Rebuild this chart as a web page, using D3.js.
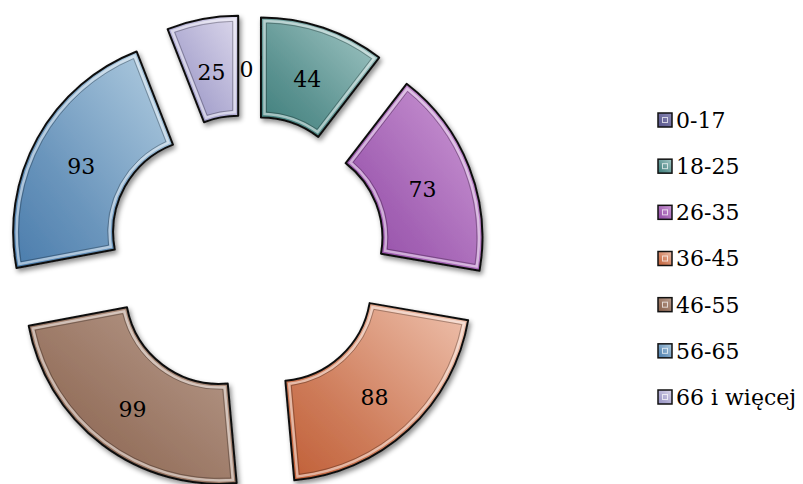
<!DOCTYPE html>
<html>
<head>
<meta charset="utf-8">
<script src="https://cdn.jsdelivr.net/npm/d3@7"></script>
<style>
  body { margin: 0; background: #fff; }
  text { font-family: "DejaVu Serif", serif; }
</style>
</head>
<body>
<svg id="chart" width="803" height="484"></svg>
<script>
// age groups and counts
var categories = ["0-17", "18-25", "26-35", "36-45", "46-55", "56-65", "66 i więcej"];
var values = [0, 44, 73, 88, 99, 93, 25];
var darkColors = ["#56548a", "#3c7c79", "#9048a4", "#c05e36", "#87604c", "#4a7cac", "#9490c2"];
var lightColors = ["#8e8cb8", "#a6cac8", "#cf9dd8", "#efc2ae", "#bca090", "#b4cfe2", "#dcd8ec"];

var width = 803, height = 484,
    cx = 246.5, cy = 254,
    outerR = 194, innerR = 94,
    explode = 45;

var svg = d3.select("#chart");
var defs = svg.append("defs");

categories.forEach(function(c, i) {
  var g = defs.append("linearGradient")
      .attr("id", "grad" + i)
      .attr("x1", 0).attr("y1", 1).attr("x2", 1).attr("y2", 0);
  g.append("stop").attr("offset", "0%").attr("stop-color", darkColors[i]);
  g.append("stop").attr("offset", "35%").attr("stop-color", d3.interpolateRgb(darkColors[i], lightColors[i])(0.3));
  g.append("stop").attr("offset", "100%").attr("stop-color", lightColors[i]);
});

var shadow = defs.append("filter").attr("id", "shadow")
    .attr("x", "-20%").attr("y", "-20%").attr("width", "140%").attr("height", "140%");
shadow.append("feDropShadow")
    .attr("dx", 2).attr("dy", 3).attr("stdDeviation", 2.5)
    .attr("flood-color", "#000").attr("flood-opacity", 0.45);

var pie = d3.pie().sort(null).value(function(d) { return d; });
var arcs = pie(values);

var arc = d3.arc().innerRadius(innerR).outerRadius(outerR);
var inset1 = d3.arc().innerRadius(innerR + 3.5).outerRadius(outerR - 3.5)
    .padRadius(outerR).padAngle(7 / outerR);
var inset2 = d3.arc().innerRadius(innerR + 5.5).outerRadius(outerR - 5.5)
    .padRadius(outerR).padAngle(11 / outerR);

function offset(d) {
  var a = (d.startAngle + d.endAngle) / 2;
  return [cx + explode * Math.sin(a), cy - explode * Math.cos(a)];
}

var seg = svg.append("g").selectAll("g")
  .data(arcs)
  .join("g")
    .attr("transform", function(d) { var o = offset(d); return "translate(" + o[0] + "," + o[1] + ")"; });

var drawn = seg.filter(function(d) { return d.value > 0; });

drawn.append("path")
    .attr("d", arc)
    .attr("fill", function(d) { return "url(#grad" + d.index + ")"; })
    .attr("stroke", "#111")
    .attr("stroke-width", 2)
    .attr("stroke-linejoin", "round")
    .attr("filter", "url(#shadow)");

drawn.append("path")
    .attr("d", inset1)
    .attr("fill", "none")
    .attr("stroke", "rgba(255,255,255,0.5)")
    .attr("stroke-width", 2.5);

drawn.append("path")
    .attr("d", inset2)
    .attr("fill", "none")
    .attr("stroke", "rgba(0,0,0,0.35)")
    .attr("stroke-width", 0.8);

seg.append("text")
    .attr("transform", function(d) { return "translate(" + arc.centroid(d) + ")"; })
    .attr("text-anchor", "middle")
    .attr("dy", 12)
    .attr("font-size", 22)
    .attr("fill", "#000")
    .text(function(d) { return d.value; });

// legend
var legendY = d3.scalePoint().domain(categories).range([120, 397]);

var legend = svg.append("g").selectAll("g")
  .data(categories)
  .join("g")
    .attr("transform", function(d) { return "translate(658," + legendY(d) + ")"; });

legend.append("rect")
    .attr("x", 0).attr("y", -7).attr("width", 14).attr("height", 14)
    .attr("fill", function(d, i) { return "url(#grad" + i + ")"; })
    .attr("stroke", "#111").attr("stroke-width", 1.5);

legend.append("rect")
    .attr("x", 4.5).attr("y", -2.5).attr("width", 5).attr("height", 5)
    .attr("fill", "none")
    .attr("stroke", "rgba(255,255,255,0.7)").attr("stroke-width", 1);

legend.append("text")
    .attr("x", 18)
    .attr("dy", "0.36em")
    .attr("font-size", 22)
    .attr("fill", "#000")
    .text(function(d) { return d; });
</script>
</body>
</html>
